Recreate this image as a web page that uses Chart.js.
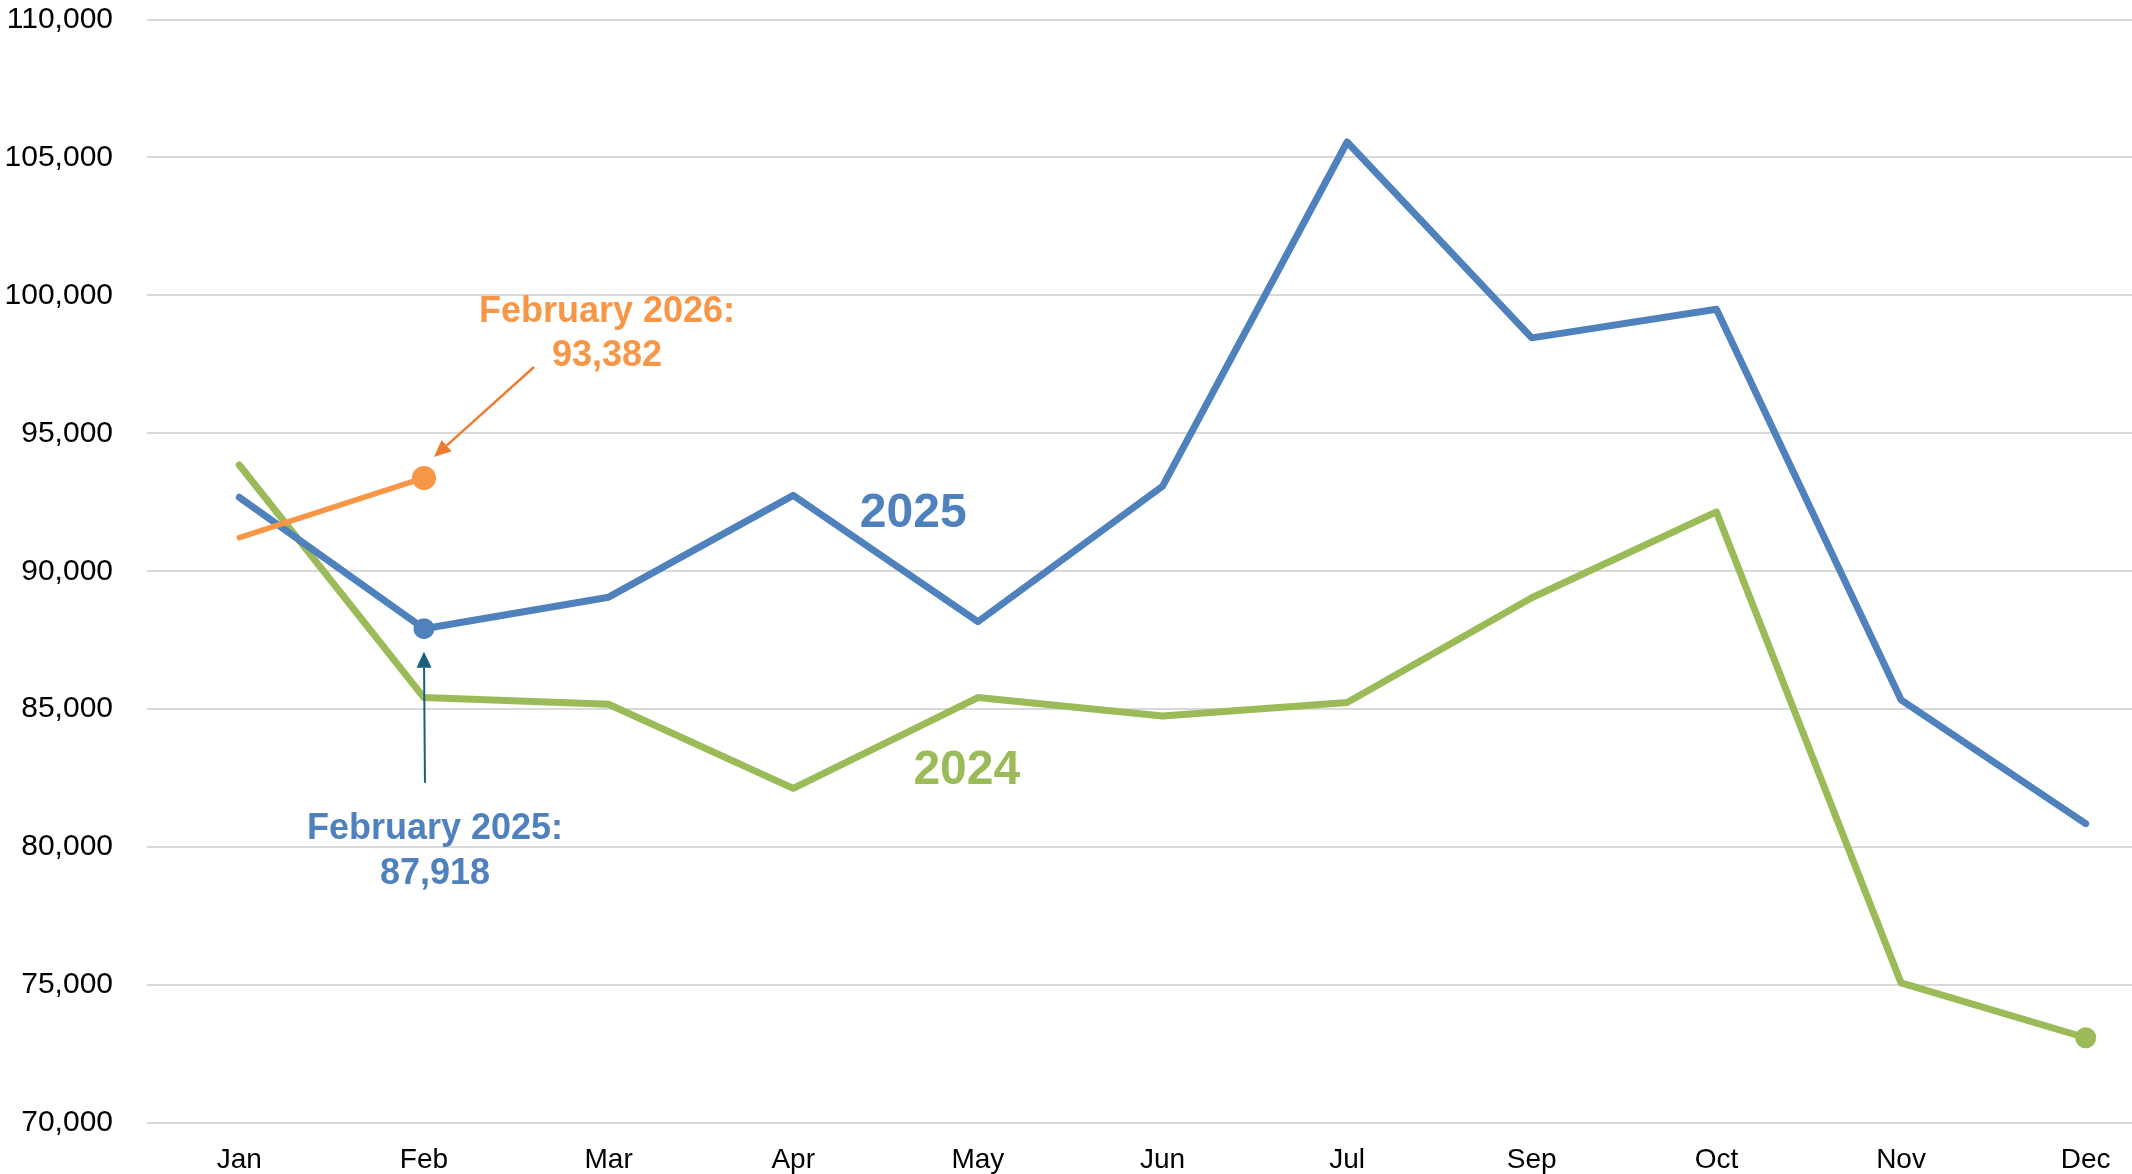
<!DOCTYPE html>
<html>
<head>
<meta charset="utf-8">
<script src="https://cdn.jsdelivr.net/npm/chart.js@4.4.1/dist/chart.umd.min.js"></script>
<style>
  html, body { margin: 0; padding: 0; background: #fff; overflow: hidden; }
  #wrap { position: relative; width: 2190px; height: 1174px; }
</style>
</head>
<body>
<div id="wrap"><canvas id="salesChart"></canvas></div>
<script>
'use strict';
// monthly values (no August column)
const months = ['Jan', 'Feb', 'Mar', 'Apr', 'May', 'Jun', 'Jul', 'Sep', 'Oct', 'Nov', 'Dec'];
const sales2024 = [93850, 85420, 85180, 82130, 85420, 84750, 85240, 89040, 92150, 75080, 73090];
const sales2025 = [92680, 87918, 89060, 92750, 88170, 93080, 105560, 98460, 99500, 85340, 80850];
const sales2026 = [91220, 93382];
const yMin = 70000, yMax = 110000, yStep = 5000;

const BLUE = '#4F81BD', GREEN = '#9BBB59', ORANGE = '#F79646';
const FONT = '"Liberation Sans", Arial, sans-serif';

// which point of each series gets a dot
const dotAt = (idx, r) => ctx => (ctx.dataIndex === idx ? r : 0);

function arrow(ctx, x1, y1, x2, y2, color, width, headLen, headW) {
  const ang = Math.atan2(y2 - y1, x2 - x1);
  const bx = x2 - headLen * Math.cos(ang), by = y2 - headLen * Math.sin(ang);
  ctx.save();
  ctx.strokeStyle = color;
  ctx.fillStyle = color;
  ctx.lineWidth = width;
  ctx.beginPath();
  ctx.moveTo(x1, y1);
  ctx.lineTo(bx, by);
  ctx.stroke();
  ctx.beginPath();
  ctx.moveTo(x2, y2);
  ctx.lineTo(bx + headW / 2 * Math.sin(ang), by - headW / 2 * Math.cos(ang));
  ctx.lineTo(bx - headW / 2 * Math.sin(ang), by + headW / 2 * Math.cos(ang));
  ctx.closePath();
  ctx.fill();
  ctx.restore();
}

function label(ctx, text, x, y, color, size) {
  ctx.save();
  ctx.font = `bold ${size}px ${FONT}`;
  ctx.fillStyle = color;
  ctx.textAlign = 'center';
  ctx.textBaseline = 'middle';
  ctx.fillText(text, x, y);
  ctx.restore();
}

const notes = {
  id: 'notes',
  afterDatasetsDraw(chart) {
    const { ctx, scales: { x, y } } = chart;
    const fx = x.getPixelForValue(1);
    const y26 = y.getPixelForValue(sales2026[1]);
    const y25 = y.getPixelForValue(sales2025[1]);

    // February 2026 callout
    arrow(ctx, fx + 110, y26 - 111, fx + 10, y26 - 21, '#ED7D31', 2.5, 17, 15);
    label(ctx, 'February 2026:', fx + 183, y26 - 166, ORANGE, 36);
    label(ctx, sales2026[1].toLocaleString('en-US'), fx + 183, y26 - 122, ORANGE, 36);

    // February 2025 callout
    arrow(ctx, fx + 1, y25 + 154, fx, y25 + 23, '#1B5E7E', 2, 16, 15);
    label(ctx, 'February 2025:', fx + 11, y25 + 200, BLUE, 36);
    label(ctx, sales2025[1].toLocaleString('en-US'), fx + 11, y25 + 245, BLUE, 36);

    // series names
    label(ctx, '2025', x.getPixelForValue(3.65), y.getPixelForValue(92100), BLUE, 48);
    label(ctx, '2024', x.getPixelForValue(3.94), y.getPixelForValue(82750), GREEN, 48);
  }
};

new Chart(document.getElementById('salesChart'), {
  type: 'line',
  data: {
    labels: months,
    datasets: [
      {
        label: '2026', data: sales2026,
        borderColor: ORANGE, backgroundColor: ORANGE, borderWidth: 5.5,
        pointRadius: dotAt(1, 12), pointBorderWidth: 0
      },
      {
        label: '2025', data: sales2025,
        borderColor: BLUE, backgroundColor: BLUE, borderWidth: 7,
        pointRadius: dotAt(1, 10.5), pointBorderWidth: 0
      },
      {
        label: '2024', data: sales2024,
        borderColor: GREEN, backgroundColor: GREEN, borderWidth: 7,
        pointRadius: dotAt(10, 10.5), pointBorderWidth: 0
      }
    ]
  },
  options: {
    responsive: true,
    maintainAspectRatio: false,
    animation: false,
    devicePixelRatio: 1,
    layout: { padding: { top: 19.5, right: 0, bottom: 0, left: 0 } },
    elements: { line: { tension: 0, borderCapStyle: 'round', borderJoinStyle: 'round' } },
    plugins: { legend: { display: false }, tooltip: { enabled: false } },
    scales: {
      x: {
        offset: true,
        grid: { display: false },
        border: { display: false },
        ticks: { color: '#000', font: { family: FONT, size: 28 }, padding: 12, maxRotation: 0, autoSkip: false },
        afterFit: s => { s.height = 51; s.paddingLeft = 0; s.paddingRight = 0; }
      },
      y: {
        min: yMin, max: yMax,
        grid: { color: '#d9d9d9', lineWidth: 2, drawTicks: false },
        border: { display: false },
        ticks: {
          stepSize: yStep, color: '#000', padding: 34,
          font: { family: FONT, size: 30 },
          callback: v => v.toLocaleString('en-US')
        },
        afterFit: s => { s.width = 147; s.paddingTop = 0; s.paddingBottom = 0; }
      }
    }
  },
  plugins: [notes]
});
</script>
</body>
</html>
